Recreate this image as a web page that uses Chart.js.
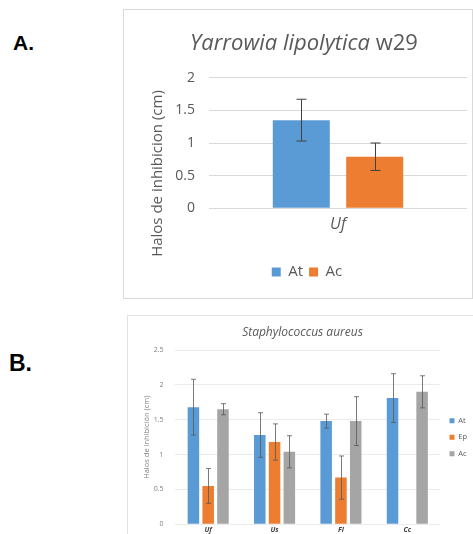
<!DOCTYPE html>
<html><head><meta charset="utf-8">
<script src="https://cdn.jsdelivr.net/npm/chart.js@4.4.0/dist/chart.umd.min.js"></script>
<style>
html,body{margin:0;padding:0;width:473px;height:534px;overflow:hidden;background:#fff;}
.lbl{position:absolute;font-family:'Liberation Sans',Arial,sans-serif;font-weight:bold;color:#000;line-height:normal;}
#boxA{position:absolute;left:123px;top:9px;width:348px;height:288px;border:1px solid #d9d9d9;}
#boxB{position:absolute;left:127px;top:315px;width:355px;height:238px;border:1px solid #e3e3e3;}
canvas{display:block}
</style></head>
<body>
<div class="lbl" style="left:13px;top:31px;font-size:21px">A.</div>
<div class="lbl" style="left:9px;top:350px;font-size:23px">B.</div>
<div id="boxA"><canvas id="cA" width="348" height="288"></canvas></div>
<div id="boxB"><canvas id="cB" width="355" height="238"></canvas></div>
<script>
// ---- Panel A data ----
const categoriesA = ['Uf'];
const seriesNamesA = ['At', 'Ac'];
const atValuesA = [1.35];
const acValuesA = [0.79];
const atErrorsA = [0.32];
const acErrorsA = [0.21];

// ---- Panel B data ----
const categoriesB = ['Uf', 'Us', 'Fl', 'Cc'];
const seriesNamesB = ['At', 'Ep', 'Ac'];
const atValuesB = [1.68, 1.28, 1.48, 1.81];
const epValuesB = [0.55, 1.18, 0.67, null];
const acValuesB = [1.65, 1.04, 1.48, 1.90];
const atErrorsB = [0.40, 0.32, 0.10, 0.35];
const epErrorsB = [0.25, 0.26, 0.31, null];
const acErrorsB = [0.08, 0.23, 0.35, 0.23];

Chart.defaults.font.family = "'Open Sans', sans-serif";

const plainTick = (v) => String(v);

function errorBarPlugin(id, color, cap, width) {
  return {
    id: id,
    afterDatasetsDraw(chart) {
      const ctx = chart.ctx, y = chart.scales.y;
      ctx.save();
      ctx.strokeStyle = color;
      ctx.lineWidth = width;
      chart.data.datasets.forEach((ds, i) => {
        const meta = chart.getDatasetMeta(i);
        (ds.errors || []).forEach((e, j) => {
          const v = ds.data[j];
          if (v == null || e == null) return;
          const x = Math.round(meta.data[j].x) + 0.5;
          const yt = y.getPixelForValue(v + e), yb = y.getPixelForValue(v - e);
          ctx.beginPath();
          ctx.moveTo(x, yt); ctx.lineTo(x, yb);
          ctx.moveTo(x - cap, yt); ctx.lineTo(x + cap, yt);
          ctx.moveTo(x - cap, yb); ctx.lineTo(x + cap, yb);
          ctx.stroke();
        });
      });
      ctx.restore();
    }
  };
}

const textA = {
  id: 'textA',
  afterDraw(chart) {
    const ctx = chart.ctx;
    const p1 = 'Yarrowia lipolytica', p2 = ' w29';
    const f1 = "italic 22px 'Open Sans'", f2 = "22px 'Open Sans'";
    ctx.save();
    ctx.fillStyle = '#595959';
    ctx.textBaseline = 'alphabetic';
    ctx.textAlign = 'left';
    ctx.font = f1; const w1 = ctx.measureText(p1).width;
    ctx.font = f2; const w2 = ctx.measureText(p2).width;
    const cx = (chart.legend.left + chart.legend.right) / 2 - 3;
    const x0 = cx - (w1 + w2) / 2;
    ctx.font = f1; ctx.fillText(p1, x0, 40);
    ctx.font = f2; ctx.fillText(p2, x0 + w1, 40);
    ctx.translate(34, 163.5);
    ctx.rotate(-Math.PI / 2);
    ctx.font = "15px 'Open Sans'";
    ctx.textAlign = 'center';
    ctx.textBaseline = 'middle';
    ctx.fillText('Halos de inhibicion (cm)', 0, 0);
    ctx.restore();
  }
};

new Chart(document.getElementById('cA'), {
  type: 'bar',
  data: {
    labels: categoriesA,
    datasets: [
      {label: seriesNamesA[0], data: atValuesA, errors: atErrorsA, backgroundColor: '#5b9bd5'},
      {label: seriesNamesA[1], data: acValuesA, errors: acErrorsA, backgroundColor: '#ed7d31'}
    ]
  },
  options: {
    responsive: false, animation: false, devicePixelRatio: 1,
    layout: {padding: {left: 23, right: 5, top: 67.7, bottom: 8.5}},
    datasets: {bar: {categoryPercentage: 0.569, barPercentage: 0.777}},
    plugins: {
      title: {display: false},
      tooltip: {enabled: false},
      legend: {position: 'bottom', labels: {color: '#595959', font: {size: 15}, boxWidth: 9, boxHeight: 9, padding: 6}}
    },
    scales: {
      x: {
        grid: {display: false, drawTicks: false}, border: {display: false},
        ticks: {color: '#595959', font: {size: 16, style: 'italic'}, padding: 7},
        afterFit(s) { s.height = 50.2; }
      },
      y: {
        min: 0, max: 2,
        ticks: {stepSize: 0.5, color: '#595959', font: {size: 14}, padding: 14, callback: plainTick},
        grid: {color: '#d9d9d9', drawTicks: false}, border: {display: false},
        afterFit(s) { s.width = 62; }
      }
    }
  },
  plugins: [errorBarPlugin('errA', '#404040', 5, 1), textA]
});

new Chart(document.getElementById('cB'), {
  type: 'bar',
  data: {
    labels: categoriesB,
    datasets: [
      {label: seriesNamesB[0], data: atValuesB, errors: atErrorsB, backgroundColor: '#5b9bd5'},
      {label: seriesNamesB[1], data: epValuesB, errors: epErrorsB, backgroundColor: '#ed7d31'},
      {label: seriesNamesB[2], data: acValuesB, errors: acErrorsB, backgroundColor: '#a5a5a5'}
    ]
  },
  options: {
    responsive: false, animation: false, devicePixelRatio: 1,
    layout: {padding: {left: 0, right: 6, top: 0, bottom: 9.7}},
    datasets: {bar: {categoryPercentage: 0.668, barPercentage: 0.78}},
    plugins: {
      title: {display: true, text: 'Staphylococcus aureus', color: '#595959',
              font: {size: 12, style: 'italic', weight: 'normal'}, padding: {top: 9.8, bottom: 9.8}},
      legend: {position: 'right', fullSize: false,
               labels: {color: '#595959', font: {size: 7.5}, boxWidth: 5, boxHeight: 5, padding: 9}},
      tooltip: {enabled: false}
    },
    scales: {
      x: {
        grid: {display: false, drawTicks: false}, border: {display: false},
        ticks: {color: '#404040', font: {size: 7, style: 'italic', weight: 'bold'}, padding: 1.5},
        afterFit(s) { s.height = 20; }
      },
      y: {
        min: 0, max: 2.5,
        ticks: {stepSize: 0.5, color: '#7f7f7f', font: {size: 7}, padding: 11.5, callback: plainTick},
        grid: {color: '#ebebeb', drawTicks: false}, border: {display: false},
        title: {display: true, text: 'Halos de inhibición (cm)', color: '#7f7f7f', font: {size: 7.5},
                padding: {top: 14.2, bottom: 0}},
        afterFit(s) { s.width = 47; }
      }
    }
  },
  plugins: [errorBarPlugin('errB', '#595959', 2.5, 0.8)]
});
</script>
</body></html>
